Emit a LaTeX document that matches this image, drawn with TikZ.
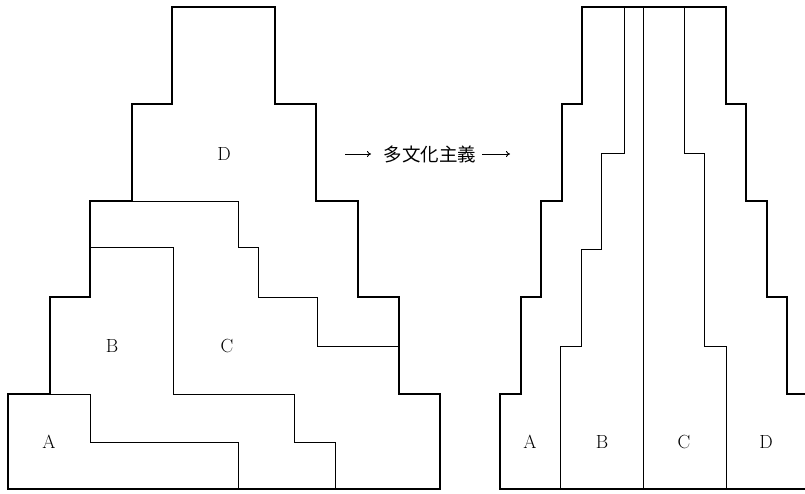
\documentclass[tikz,border=0pt]{standalone}
\usepackage{fontspec}
\newfontfamily\cjkfont{Noto Sans CJK JP}
\usetikzlibrary{arrows.meta}
\tikzset{
  outline/.style={line width=2.4pt, line join=miter},
  inner/.style={line width=0.8pt},
  lab/.style={font=\fontsize{19}{22}\selectfont, inner sep=0pt},
  arr/.style={line width=0.9pt, -{To[length=4pt,width=6pt]}}
}
\begin{document}
\begin{tikzpicture}[x=1pt,y=-1pt]
\useasboundingbox (0,0) rectangle (805,493);
\clip (0,0) rectangle (805,493);
% left figure
\draw[outline] (8,489) -- (8,394) -- (50,394) -- (50,297) -- (90,297) -- (90,201) -- (132,201) -- (132,104) -- (172,104) -- (172,7) -- (275,7) -- (275,104) -- (316,104) -- (316,201) -- (358,201) -- (358,297) -- (399,297) -- (399,394) -- (440,394) -- (440,489) -- cycle;
\draw[inner] (132,201) -- (238,201) -- (238,247) -- (258,247) -- (258,297) -- (317,297) -- (317,346) -- (399,346);
\draw[inner] (90,247) -- (173,247) -- (173,394) -- (294,394) -- (294,442) -- (335,442) -- (335,489);
\draw[inner] (50,394) -- (90,394) -- (90,442) -- (238,442) -- (238,489);
\node[lab] (lD) at (224,154) {D};
\node[lab] (lB) at (112,346) {B};
\node[lab] (lC) at (227,346) {C};
\node[lab] (lA) at (49,442) {A};
% right figure
\draw[outline] (500,489) -- (500,394) -- (521,394) -- (521,297) -- (541,297) -- (541,201) -- (562,201) -- (562,104) -- (582,104) -- (582,7) -- (726,7) -- (726,104) -- (746,104) -- (746,201) -- (767,201) -- (767,297) -- (787,297) -- (787,394) -- (808,394) -- (808,489) -- cycle;
\draw[inner] (624,7) -- (624,153) -- (601,153) -- (601,249) -- (581,249) -- (581,346) -- (560,346) -- (560,489);
\draw[inner] (643,7) -- (643,489);
\draw[inner] (684,7) -- (684,153) -- (704,153) -- (704,346) -- (726,346) -- (726,489);
\node[lab] (rA) at (530,442) {A};
\node[lab] (rB) at (602,442) {B};
\node[lab] (rC) at (684,442) {C};
\node[lab] (rD) at (766,442) {D};
% arrow text
\node[inner sep=0pt, font=\cjkfont\fontsize{18.5}{22}\selectfont] (t) at (430,154) {多文化主義};
\coordinate (a1s) at (345,154);
\coordinate (a1e) at (371,154);
\coordinate (a2s) at (482,154);
\coordinate (a2e) at (510,154);
\draw[arr] (a1s) -- (a1e);
\draw[arr] (a2s) -- (a2e);
\end{tikzpicture}
\end{document}
